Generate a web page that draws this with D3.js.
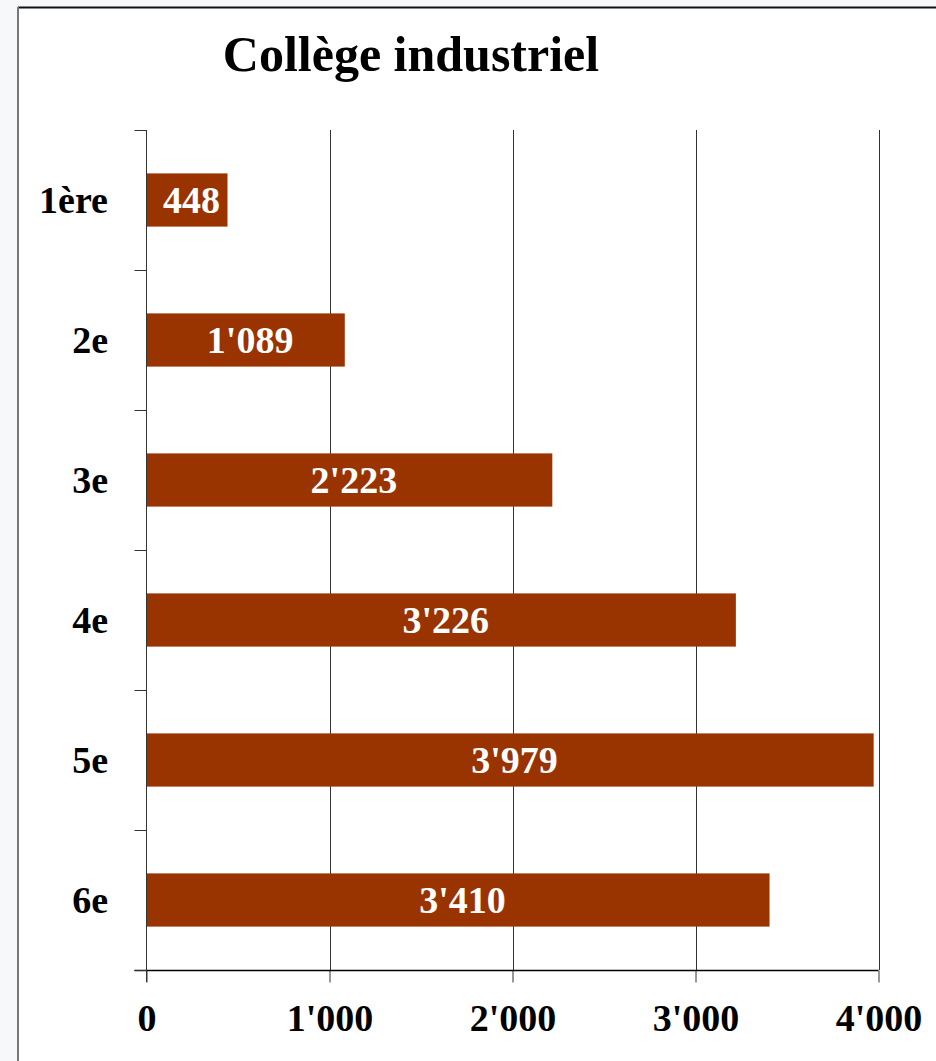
<!DOCTYPE html>
<html><head><meta charset="utf-8">
<script src="https://cdn.jsdelivr.net/npm/d3@7"></script>
<style>
html,body{margin:0;padding:0;background:#f7f8fa;}
svg{display:block;}
</style></head>
<body>
<svg id="chart" width="936" height="1061"></svg>
<script>
const categories = ["1ère", "2e", "3e", "4e", "5e", "6e"];
const values = [448, 1089, 2223, 3226, 3979, 3410];
const valueLabels = ["448", "1'089", "2'223", "3'226", "3'979", "3'410"];
const xTicks = [0, 1000, 2000, 3000, 4000];
const xTickLabels = ["0", "1'000", "2'000", "3'000", "4'000"];
const title = "Collège industriel";

(function () {
const svg = d3.select("#chart");
const font = "'Liberation Serif', 'Times New Roman', serif";

// frame
svg.append("rect").attr("x", 18).attr("y", 8).attr("width", 940).attr("height", 1080).attr("fill", "#fff");
svg.append("line").attr("x1", 18).attr("x2", 936).attr("y1", 7.5).attr("y2", 7.5).attr("stroke", "#111").attr("stroke-width", 2);
svg.append("line").attr("x1", 18).attr("x2", 18).attr("y1", 7).attr("y2", 1061).attr("stroke", "#777").attr("stroke-width", 2);

const mLeft = 146.5, mRight = 878.5, mTop = 130, mBottom = 970;
const x = d3.scaleLinear().domain([0, 4000]).range([mLeft, mRight]);
const y = d3.scaleBand().domain(categories).range([mTop, mBottom]).paddingInner(0.62).paddingOuter(0.31);

// gridlines
svg.append("g").selectAll("line").data(xTicks.slice(1)).join("line")
  .attr("x1", d => Math.round(x(d)) + 0.5).attr("x2", d => Math.round(x(d)) + 0.5)
  .attr("y1", mTop).attr("y2", mBottom)
  .attr("stroke", "#333").attr("stroke-width", 1);

// bars
svg.append("g").selectAll("rect").data(values).join("rect")
  .attr("x", x(0) + 0.5).attr("y", (d, i) => y(categories[i]))
  .attr("width", d => x(d) - x(0) - 1.5).attr("height", y.bandwidth())
  .attr("fill", "#993300");

// x axis
const xAxis = d3.axisBottom(x).tickValues(xTicks).tickFormat((d, i) => xTickLabels[i]).tickSize(12).tickSizeOuter(0).tickPadding(22);
const gx = svg.append("g").attr("transform", `translate(0,${mBottom + 0.5})`).call(xAxis);
gx.select(".domain").remove();
gx.append("line").attr("x1", mLeft - 12).attr("x2", mRight).attr("y1", 0).attr("y2", 0).attr("stroke", "#000").attr("stroke-width", 1.5);
gx.selectAll(".tick line").attr("stroke", "#333");
gx.selectAll(".tick text").attr("font-family", font).attr("font-weight", "bold").attr("font-size", 38).attr("fill", "#000").attr("dy", "0.71em");

// y axis
const ySep = d3.scaleLinear().domain([0, categories.length]).range([mTop, mBottom]);
const gy = svg.append("g");
gy.append("line").attr("x1", mLeft).attr("x2", mLeft).attr("y1", mTop).attr("y2", mBottom + 12).attr("stroke", "#333").attr("stroke-width", 1);
gy.selectAll("line.sep").data(d3.range(categories.length + 1)).join("line").attr("class", "sep")
  .attr("x1", mLeft - 12).attr("x2", mLeft).attr("y1", d => Math.round(ySep(d)) + 0.5).attr("y2", d => Math.round(ySep(d)) + 0.5)
  .attr("stroke", "#333").attr("stroke-width", 1);
gy.selectAll("text").data(categories).join("text")
  .attr("x", 108).attr("y", d => y(d) + y.bandwidth() / 2).attr("dy", "0.35em")
  .attr("text-anchor", "end").attr("font-family", font).attr("font-weight", "bold").attr("font-size", 38).attr("fill", "#000")
  .text(d => d);

// value labels
svg.append("g").selectAll("text").data(values).join("text")
  .attr("x", d => (x(0) + x(d)) / 2 + 4).attr("y", (d, i) => y(categories[i]) + y.bandwidth() / 2).attr("dy", "0.35em")
  .attr("text-anchor", "middle").attr("font-family", font).attr("font-weight", "bold").attr("font-size", 38).attr("fill", "#fff")
  .text((d, i) => valueLabels[i]);

// title
svg.append("text").attr("x", 411).attr("y", 71).attr("text-anchor", "middle")
  .attr("font-family", font).attr("font-weight", "bold").attr("font-size", 50).attr("fill", "#000").text(title);
})();
</script>
</body></html>
